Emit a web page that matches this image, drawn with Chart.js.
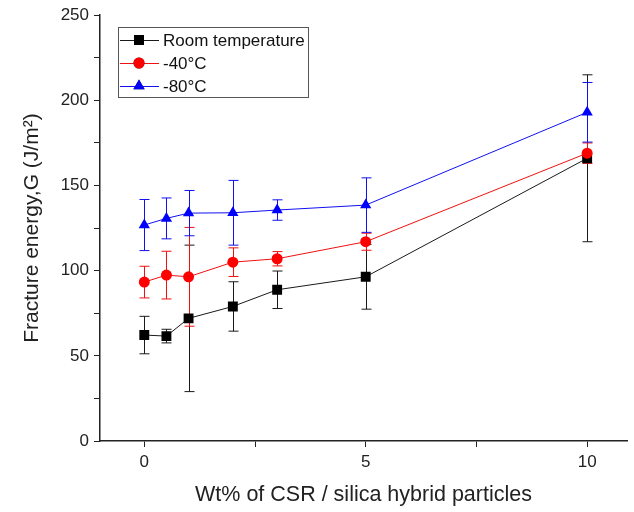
<!DOCTYPE html>
<html>
<head>
<meta charset="utf-8">
<script src="https://cdn.jsdelivr.net/npm/chart.js@4.4.1/dist/chart.umd.min.js"></script>
<style>
  html, body { margin: 0; padding: 0; background: #fff; }
  #wrap { width: 634px; height: 512px; }
</style>
</head>
<body>
<div id="wrap"><canvas id="chart"></canvas></div>
<script>
// Fracture energy vs. CSR / silica hybrid particle content

const wtPercent = [0, 0.5, 1, 2, 3, 5, 10];

const roomTemp = [62.2, 61.6, 72, 79, 88.8, 96.4, 166];
const roomTempErr = [11, 4, 43, 14.5, 11, 19, 49];

const minus40 = [93.3, 97.4, 96.4, 105, 107, 117, 169];
const minus40Err = [9.3, 14, 29, 8.4, 4.2, 5, 6];

const minus80 = [126.8, 130.7, 133.8, 134, 135.6, 138.5, 193];
const minus80Err = [15, 12, 13.3, 19, 6, 16, 17.5];

const seriesNames = ['Room temperature', '-40°C', '-80°C'];
const xTicks = [0, 2.5, 5, 7.5, 10];
const xLabels = [0, 5, 10];
const yTicks = [0, 25, 50, 75, 100, 125, 150, 175, 200, 225, 250];
const yLabels = [0, 50, 100, 150, 200, 250];

const FONT = '"Liberation Sans", Arial, sans-serif';

function points(values) {
  return wtPercent.map((x, i) => ({ x: x, y: values[i] }));
}

// vertical error bars with caps, drawn under the markers
const errorBars = {
  id: 'errorBars',
  beforeDatasetsDraw(chart) {
    const { ctx, scales: { x, y } } = chart;
    chart.data.datasets.forEach(ds => {
      ctx.save();
      ctx.strokeStyle = ds.borderColor;
      ctx.lineWidth = 1;
      ds.data.forEach((p, j) => {
        const e = ds.errors[j];
        const px = Math.round(x.getPixelForValue(p.x)) + 0.5;
        const top = y.getPixelForValue(p.y + e);
        const bot = y.getPixelForValue(p.y - e);
        ctx.beginPath();
        ctx.moveTo(px, top);
        ctx.lineTo(px, bot);
        ctx.moveTo(px - 5, top);
        ctx.lineTo(px + 5, top);
        ctx.moveTo(px - 5, bot);
        ctx.lineTo(px + 5, bot);
        ctx.stroke();
      });
      ctx.restore();
    });
  }
};

// boxed legend in the upper left of the plot
const boxLegend = {
  id: 'boxLegend',
  afterDraw(chart) {
    const ctx = chart.ctx;
    const left = 118, top = 27, w = 190, h = 70;
    ctx.save();
    ctx.strokeStyle = '#555';
    ctx.lineWidth = 1;
    ctx.strokeRect(left + 0.5, top + 0.5, w, h);
    const rows = [40, 63, 86];
    chart.data.datasets.forEach((ds, i) => {
      const yy = rows[i];
      ctx.strokeStyle = ds.borderColor;
      ctx.beginPath();
      ctx.moveTo(left + 2, yy + 0.5);
      ctx.lineTo(left + 41, yy + 0.5);
      ctx.stroke();
      Chart.helpers.drawPoint(ctx, {
        pointStyle: ds.pointStyle,
        radius: ds.pointRadius,
        borderWidth: 0
      }, left + 21, yy);
      ctx.fillStyle = ds.pointBackgroundColor;
      ctx.fill();
      ctx.fillStyle = '#111';
      ctx.font = '17px ' + FONT;
      ctx.textBaseline = 'middle';
      ctx.fillText(seriesNames[i], left + 45, yy + 1);
    });
    ctx.restore();
  }
};

const ctx = document.getElementById('chart').getContext('2d');
new Chart(ctx, {
  type: 'scatter',
  data: {
    datasets: [
      {
        label: seriesNames[0],
        data: points(roomTemp),
        errors: roomTempErr,
        showLine: true,
        borderColor: '#1a1a1a',
        borderWidth: 1,
        pointStyle: 'rect',
        pointRadius: 7,
        pointBackgroundColor: '#000',
        pointBorderWidth: 0,
        order: 3
      },
      {
        label: seriesNames[1],
        data: points(minus40),
        errors: minus40Err,
        showLine: true,
        borderColor: '#f01010',
        borderWidth: 1,
        pointStyle: 'circle',
        pointRadius: 5.5,
        pointBackgroundColor: '#f00',
        pointBorderWidth: 0,
        order: 2
      },
      {
        label: seriesNames[2],
        data: points(minus80),
        errors: minus80Err,
        showLine: true,
        borderColor: '#1010f0',
        borderWidth: 1,
        pointStyle: 'triangle',
        pointRadius: 6.5,
        pointBackgroundColor: '#00f',
        pointBorderWidth: 0,
        order: 1
      }
    ]
  },
  options: {
    responsive: true,
    maintainAspectRatio: false,
    animation: false,
    layout: { padding: { top: 15, right: 2, left: 0, bottom: 0 } },
    plugins: {
      legend: { display: false },
      tooltip: { enabled: false }
    },
    scales: {
      x: {
        type: 'linear',
        min: -1,
        max: 10.9,
        afterBuildTicks: s => { s.ticks = xTicks.map(v => ({ value: v })); },
        afterFit: s => { s.height = 71; },
        ticks: {
          autoSkip: false,
          maxRotation: 0,
          padding: 5,
          color: '#222',
          font: { family: FONT, size: 17 },
          callback: v => xLabels.includes(v) ? String(v) : ''
        },
        grid: { drawOnChartArea: false, drawTicks: true, tickLength: 6, color: '#222' },
        border: { color: '#222', width: 1.5 },
        title: {
          display: true,
          text: 'Wt% of CSR / silica hybrid particles',
          color: '#222',
          font: { family: FONT, size: 21.5 },
          padding: { top: 0, bottom: 4 }
        }
      },
      y: {
        type: 'linear',
        min: 0,
        max: 250,
        afterBuildTicks: s => { s.ticks = yTicks.map(v => ({ value: v })); },
        afterFit: s => { s.width = 100; },
        ticks: {
          autoSkip: false,
          padding: 5,
          color: '#222',
          font: { family: FONT, size: 17 },
          callback: v => yLabels.includes(v) ? String(v) : ''
        },
        grid: { drawOnChartArea: false, drawTicks: true, tickLength: 6, color: '#222' },
        border: { color: '#222', width: 1.5 },
        title: {
          display: true,
          text: 'Fracture energy,G (J/m²)',
          color: '#222',
          font: { family: FONT, size: 21 },
          padding: { top: 20, bottom: 0 }
        }
      }
    }
  },
  plugins: [errorBars, boxLegend]
});
</script>
</body>
</html>
